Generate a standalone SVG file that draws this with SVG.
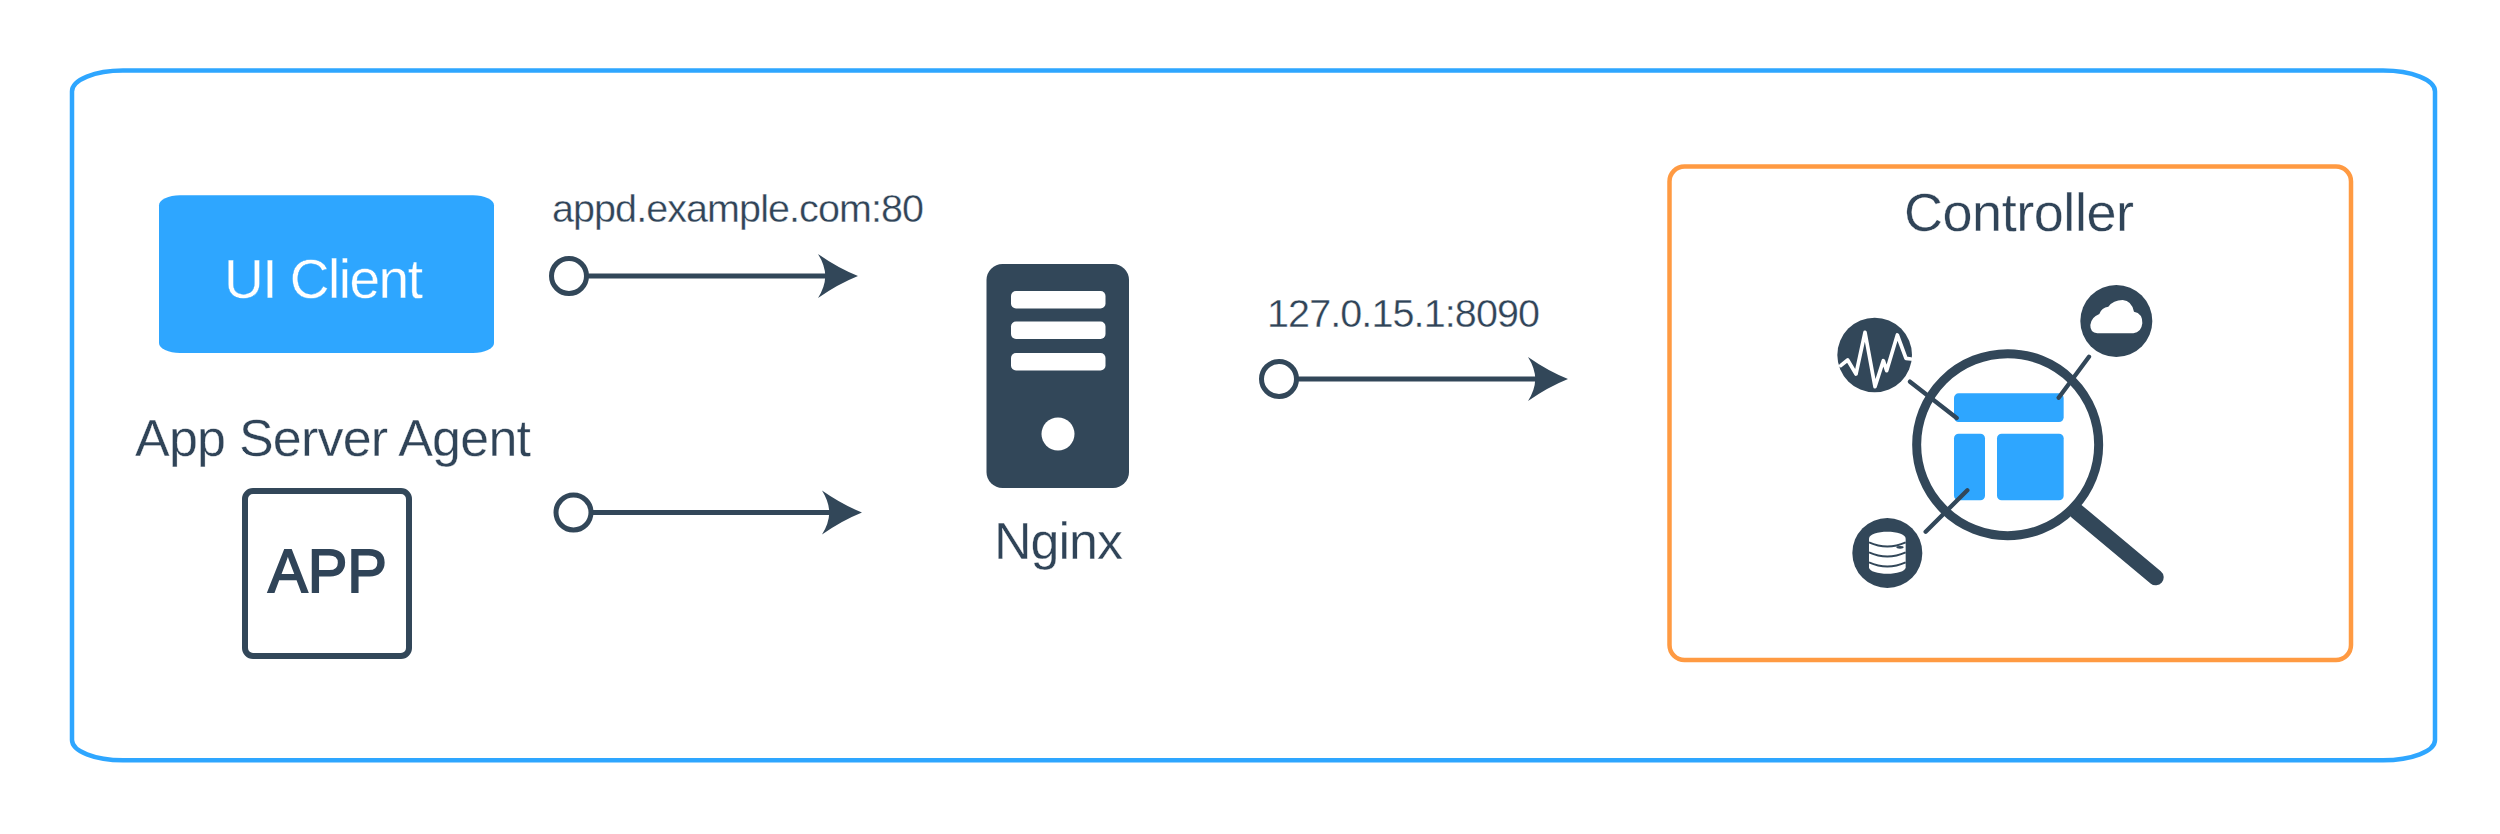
<svg xmlns="http://www.w3.org/2000/svg" width="2500" height="834" viewBox="0 0 2500 834">
<style>
text{font-family:"Liberation Sans",Arial,sans-serif;fill:#304458;stroke:#fff;stroke-width:.35}
.dark{fill:#324759}.blue{fill:#2ea6ff}.wh{fill:#fff}
.wire{fill:none;stroke:#324759;stroke-width:5}
.spoke{fill:none;stroke:#324759;stroke-width:13;stroke-linecap:round}
.ring{fill:#fff;stroke:#324759;stroke-width:5}
</style>
<defs>
<path id="head" class="dark" d="M0 0Q-20-8-40-22Q-33-11-32.700 0Q-33 11-40 22Q-20 8 0 0Z"/>
</defs>
<rect width="2500" height="834" fill="#fff"/>
<g id="boundary"><path d="M123 70.500H2383A52 21 0 0 1 2435 91.500V740A52 20.300 0 0 1 2383 760.300H123A51 20.300 0 0 1 72 740V91.500A51 21 0 0 1 123 70.500Z" fill="none" stroke="#2ea6ff" stroke-width="4.500"/></g>
<g id="connectors">
<path class="wire" d="M587 276H830"/><circle class="ring" cx="569" cy="276" r="17.500"/><use href="#head" x="858" y="276"/>
<path class="wire" d="M591 512.500H834"/><circle class="ring" cx="573.500" cy="512.500" r="17.500"/><use href="#head" x="862" y="512.500"/>
<path class="wire" d="M1297 379H1540"/><circle class="ring" cx="1279" cy="379" r="17.500"/><use href="#head" x="1568" y="379"/>
<text x="552" y="222" font-size="39.500" textLength="372">appd.example.com:80</text>
<text x="1267" y="327" font-size="39.500" textLength="273">127.0.15.1:8090</text>
</g>
<g id="ui-client">
<rect class="blue" x="159" y="195.300" width="335" height="157.700" rx="21" ry="10"/>
<text x="224" y="298" font-size="55" textLength="199" style="fill:#fff;stroke:#2ea6ff">UI Client</text>
</g>
<g id="app-server-agent">
<text x="135" y="456" font-size="52" textLength="396">App Server Agent</text>
<rect x="245" y="491" width="164" height="165" rx="8" fill="#fff" stroke="#324759" stroke-width="6"/>
<text x="268" y="592" font-size="62" textLength="119" lengthAdjust="spacingAndGlyphs" style="stroke:#304458;stroke-width:1.800">APP</text>
</g>
<g id="nginx">
<rect class="dark" x="986.500" y="264" width="142.500" height="224" rx="16"/>
<rect class="wh" x="1011" y="291" width="94.500" height="17.500" rx="5"/>
<rect class="wh" x="1011" y="321.500" width="94.500" height="17.500" rx="5"/>
<rect class="wh" x="1011" y="353" width="94.500" height="17.500" rx="5"/>
<circle class="wh" cx="1058" cy="434" r="16.500"/>
<text x="994" y="559" font-size="52" textLength="129">Nginx</text>
</g>
<g id="controller">
<rect x="1669.500" y="166.500" width="681.500" height="493.500" rx="15" fill="#fff" stroke="#ff9a42" stroke-width="4.500"/>
<text x="1904" y="231" font-size="54" textLength="230">Controller</text>
<g transform="translate(1780 270) scale(.33333)">
<path d="M890 724L1127 922" fill="none" stroke="#324759" stroke-width="48" stroke-linecap="round"/>
<circle cx="683" cy="524" r="273" fill="#fff" stroke="#324759" stroke-width="27"/>
<rect class="blue" x="522" y="370" width="329" height="86" rx="14"/>
<rect class="blue" x="522" y="491" width="93" height="200" rx="14"/>
<rect class="blue" x="651" y="491" width="200" height="200" rx="14"/>
<circle class="dark" cx="284" cy="255" r="112"/>
<path d="M182 287L203 270L228 312L255 187L285 350L310 272L320 302L352 195L378 265L393 267" fill="none" stroke="#fff" stroke-width="11" stroke-linejoin="round" stroke-linecap="round"/>
<circle class="dark" cx="1009" cy="153" r="108"/>
<path class="wh" d="M952 190Q930 188 931 165Q933 142 958 132Q965 112 985 110Q1000 90 1028 90Q1055 92 1062 125Q1088 130 1087 160Q1084 188 1060 190Z"/>
<circle class="dark" cx="322" cy="849" r="105"/>
<path class="wh" d="M267 806C267 778 377 778 377 806V892C377 918 267 918 267 892Z"/>
<path d="M267 817Q322 842 377 817M267 847Q322 872 377 847M267 877Q322 902 377 877" fill="none" stroke="#324759" stroke-width="6"/>
<ellipse class="dark" cx="360" cy="832" rx="11" ry="4"/>
<path class="spoke" d="M390 335L530 444M927 260L836 383M437 785L562 661"/>
</g>
</g>
</svg>
